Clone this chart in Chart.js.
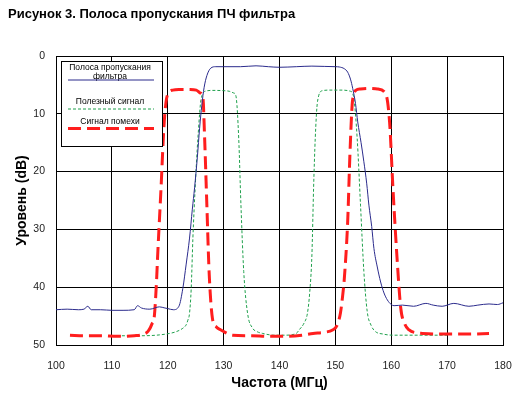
<!DOCTYPE html>
<html><head><meta charset="utf-8">
<script src="https://cdn.jsdelivr.net/npm/chart.js@4/dist/chart.umd.min.js"></script>
<style>html,body{margin:0;padding:0;background:#fff}#wrap{position:relative;width:531px;height:401px}</style>
</head><body><div id="wrap"><canvas id="c" width="531" height="401"></canvas></div>
<script>
const chartTitle = 'Рисунок 3. Полоса пропускания ПЧ фильтра';
const xAxisTitle = 'Частота (МГц)';
const yAxisTitle = 'Уровень (dB)';
const seriesNames = ['Полоса пропускания фильтра', 'Полезный сигнал', 'Сигнал помехи'];
const legendLines = [['Полоса пропускания', 'фильтра'], ['Полезный сигнал'], ['Сигнал помехи']];
const xTicks = [100, 110, 120, 130, 140, 150, 160, 170, 180];
const yTicks = [0, 10, 20, 30, 40, 50];

const filterFreq = [100, 102, 104, 105.0, 105.7, 106.3, 108, 110, 112, 114, 114.6, 115.3, 116.8, 118.5, 119.5, 120, 121, 122, 122.7, 123.3, 123.9, 124.4, 124.8, 125.3, 125.7, 126.1, 126.5, 127, 127.7, 128.6, 130, 133, 135.8, 138, 140, 143, 145.8, 148, 150, 150.7, 151.6, 152.2, 152.7, 153.1, 153.6, 154.0, 154.6, 155.1, 155.6, 156.0, 156.5, 156.9, 157.5, 158.1, 158.7, 159.3, 160, 160.5, 162, 164, 166.2, 167.5, 169.1, 171.2, 173.9, 175.5, 177.5, 179, 180];
const filterLevel = [43.9, 43.8, 43.9, 43.8, 43.3, 43.9, 43.9, 44.0, 44.0, 43.9, 43.2, 43.6, 43.8, 43.4, 43.6, 43.7, 43.9, 43.3, 40.2, 36, 31.5, 26.5, 22.8, 17.5, 12.5, 8.5, 5.5, 3.4, 2.1, 1.85, 1.85, 1.85, 1.7, 1.85, 1.95, 1.85, 1.75, 1.8, 1.85, 1.9, 2.2, 2.8, 4.0, 5.6, 8.2, 11.4, 15, 18.3, 22, 25.8, 29.5, 33.3, 36.5, 39.1, 41.0, 42.2, 43.0, 43.2, 43.1, 43.3, 42.8, 43.1, 43.3, 42.8, 43.3, 43.1, 42.9, 43.0, 42.7];

const usefulFreq = [110, 115, 118, 120.3, 121.5, 122.7, 123.3, 123.6, 123.9, 124.2, 124.5, 124.9, 125.4, 126.0, 126.9, 128, 130, 131.0, 131.8, 132.2, 132.7, 133.1, 133.6, 134.3, 135.2, 136, 137, 139, 141, 143, 143.5, 144.4, 145.0, 145.4, 145.8, 146.1, 146.4, 146.8, 147.7, 149, 151, 152.7, 153.3, 153.9, 154.5, 155.1, 155.7, 156.4, 157.2, 158.5, 160.2, 163, 166, 170];
const usefulLevel = [48.4, 48.4, 48.3, 48.0, 47.7, 47.1, 46.5, 45.7, 44.5, 40.2, 31.5, 22.9, 14.2, 7.3, 6.05, 5.95, 6.0, 6.1, 6.4, 6.9, 14.2, 25.8, 37.3, 44.6, 47.1, 47.7, 48.0, 48.3, 48.3, 48.0, 47.4, 46.2, 44.5, 41, 34.4, 22.9, 14.2, 7.9, 6.0, 5.9, 5.9, 6.1, 7.3, 14.2, 25.8, 37.3, 44.2, 46.6, 47.7, 48.1, 48.3, 48.3, 48.3, 48.3];

const noiseFreq = [102.5, 105, 108, 111, 114, 115.5, 116.5, 117.2, 117.6, 118.0, 118.2, 118.8, 119.3, 119.7, 120.2, 120.9, 122, 124, 125.1, 125.8, 126.3, 126.6, 127.0, 127.4, 128.0, 128.7, 129.5, 131.6, 135, 138, 141, 144, 146, 148, 149.5, 150.3, 150.9, 151.3, 151.6, 152.2, 152.6, 153.0, 153.3, 153.7, 154.5, 156, 157.5, 159, 159.7, 160.3, 161.0, 161.7, 162.4, 163.2, 164.5, 165.6, 168, 171, 174, 177.5];
const noiseLevel = [48.3, 48.4, 48.4, 48.5, 48.4, 48.2, 47.6, 46.3, 45, 38.8, 34.4, 22.8, 12.5, 7.9, 6.3, 5.9, 5.8, 5.8, 5.9, 6.4, 7.3, 14.2, 25.8, 37.3, 45.4, 46.9, 47.4, 48.3, 48.4, 48.5, 48.5, 48.3, 48.0, 47.8, 47.4, 46.6, 44.5, 41.5, 38.5, 28.7, 17.1, 8.5, 6.6, 5.9, 5.7, 5.6, 5.7, 6.5, 11.4, 22.8, 34.4, 43.6, 46.3, 47.4, 47.9, 48.0, 48.1, 48.1, 48.1, 48.0];

const colors = ['#2b2b8c', '#1fa04c', '#ff1e1e'];
const widths = [1, 1, 3];
const dashes = [[], [3, 2], [13, 6]];

function pts(xs, ys) { return xs.map((x, i) => ({ x: x, y: ys[i] })); }

const overlay = {
  id: 'overlay',
  afterDraw(chart) {
    const ctx = chart.ctx;
    ctx.save();
    ctx.fillStyle = '#000';
    ctx.font = 'bold 13px "Liberation Sans", Arial, sans-serif';
    ctx.textAlign = 'left';
    ctx.textBaseline = 'middle';
    ctx.fillText(chartTitle, 8, 14);
    const bx = 61, by = 61, bw = 101, bh = 85;
    ctx.fillStyle = '#fff';
    ctx.fillRect(bx, by, bw, bh);
    ctx.strokeStyle = '#000';
    ctx.lineWidth = 1;
    ctx.strokeRect(bx + 0.5, by + 0.5, bw, bh);
    ctx.fillStyle = '#000';
    ctx.font = '8.5px "Liberation Sans", Arial, sans-serif';
    ctx.textAlign = 'center';
    const cx = 110;
    const textY = [[68, 77], [102], [122]];
    const lineY = [80, 109, 128.5];
    for (let i = 0; i < 3; i++) {
      legendLines[i].forEach((t, j) => ctx.fillText(t, cx, textY[i][j]));
      ctx.beginPath();
      ctx.strokeStyle = colors[i];
      ctx.lineWidth = widths[i];
      ctx.setLineDash(dashes[i]);
      ctx.moveTo(68, lineY[i]);
      ctx.lineTo(154, lineY[i]);
      ctx.stroke();
    }
    ctx.restore();
  }
};

new Chart(document.getElementById('c'), {
  type: 'scatter',
  data: {
    datasets: [
      { label: seriesNames[0], data: pts(filterFreq, filterLevel), order: 0 },
      { label: seriesNames[1], data: pts(usefulFreq, usefulLevel), order: 2 },
      { label: seriesNames[2], data: pts(noiseFreq, noiseLevel), order: 1 }
    ].map((d, i) => Object.assign(d, {
      showLine: true, pointRadius: 0, borderColor: colors[i], borderWidth: widths[i],
      borderDash: dashes[i], cubicInterpolationMode: 'monotone', fill: false
    }))
  },
  options: {
    responsive: false, animation: false, devicePixelRatio: 1,
    layout: { padding: { top: 56, right: 28, left: 0, bottom: 0 } },
    plugins: { legend: { display: false }, tooltip: { enabled: false }, title: { display: false } },
    scales: {
      x: {
        type: 'linear', min: xTicks[0], max: xTicks[xTicks.length - 1],
        afterBuildTicks: s => { s.ticks = xTicks.map(v => ({ value: v })); },
        afterFit: s => { s.height = 56; },
        grid: { color: '#000', lineWidth: 1, drawTicks: false },
        border: { color: '#000', width: 1 },
        ticks: { padding: 15, color: '#222', font: { size: 10.5, family: '"Liberation Sans", Arial, sans-serif' }, maxRotation: 0 },
        title: { display: true, text: xAxisTitle, color: '#000', padding: { top: 0, bottom: 9 }, font: { size: 14, weight: 'bold', family: '"Liberation Sans", Arial, sans-serif' } }
      },
      y: {
        type: 'linear', reverse: true, min: yTicks[0], max: yTicks[yTicks.length - 1],
        afterBuildTicks: s => { s.ticks = yTicks.map(v => ({ value: v })); },
        afterFit: s => { s.width = 56; },
        grid: { color: '#000', lineWidth: 1, drawTicks: false },
        border: { color: '#000', width: 1 },
        ticks: { padding: 11, color: '#222', font: { size: 10.5, family: '"Liberation Sans", Arial, sans-serif' } },
        title: { display: true, text: yAxisTitle, color: '#000', padding: { top: 14, bottom: 0 }, font: { size: 14, weight: 'bold', family: '"Liberation Sans", Arial, sans-serif' } }
      }
    }
  },
  plugins: [overlay]
});
</script></body></html>
